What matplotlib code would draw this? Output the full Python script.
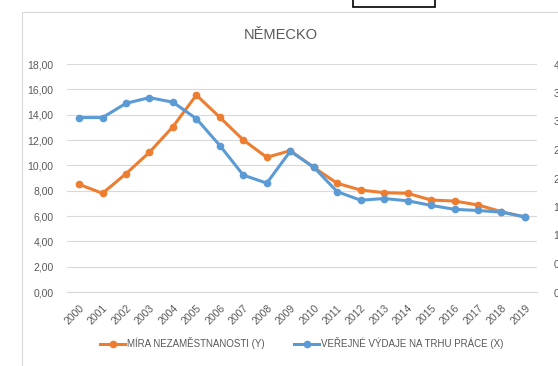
import matplotlib.pyplot as plt
import matplotlib.transforms as mtransforms
from matplotlib.patches import Rectangle

plt.rcParams['font.family'] = ['Liberation Sans', 'DejaVu Sans']

years = [str(y) for y in range(2000, 2020)]
mira_nezam = [8.50, 7.79, 9.34, 11.03, 13.05, 15.55, 13.79, 12.00, 10.63, 11.16,
              9.84, 8.58, 8.05, 7.84, 7.79, 7.26, 7.18, 6.87, 6.34, 5.90]
vydaje_trh = [3.06, 3.06, 3.31, 3.41, 3.33, 3.04, 2.57, 2.05, 1.91, 2.47,
              2.19, 1.76, 1.61, 1.64, 1.60, 1.52, 1.45, 1.43, 1.40, 1.32]
left_ticks = [0, 2, 4, 6, 8, 10, 12, 14, 16, 18]
right_ticks = [0, 0.5, 1, 1.5, 2, 2.5, 3, 3.5, 4]

ORANGE = '#ED7D31'
BLUE = '#5B9BD5'
GREY = '#595959'

def fmt(v):
    return ('%.2f' % v).replace('.', ',')

W, H = 558, 366
fig = plt.figure(figsize=(W / 100, H / 100), dpi=100)

# chart frame
fig.patches.append(Rectangle((22 / W, -0.1), 1.0, 1.1 - 12 / H, transform=fig.transFigure,
                             fill=False, edgecolor='#D9D9D9', linewidth=0.8))
# small box peeking in at the top
fig.patches.append(Rectangle((353 / W, 1 - 7 / H), 82 / W, 0.1, transform=fig.transFigure,
                             facecolor='white', edgecolor='black', linewidth=1.2))

ax = fig.add_axes([67.3 / W, 1 - 292 / H, 469.4 / W, 228 / H])
ax2 = ax.twinx()

x = list(range(len(years)))
ax.plot(x, mira_nezam, color=ORANGE, lw=2.2, marker='o', ms=4.5, label='MÍRA NEZAMĚSTNANOSTI (Y)')
ax2.plot(x, vydaje_trh, color=BLUE, lw=2.2, marker='o', ms=4.5, label='VEŘEJNÉ VÝDAJE NA TRHU PRÁCE (X)')

ax.set_xlim(-0.5, len(years) - 0.5)
ax.set_ylim(0, 18)
ax2.set_ylim(0, 4)
ax.set_yticks(left_ticks)
ax.set_yticklabels([fmt(v) for v in left_ticks])
ax2.set_yticks(right_ticks)
ax2.set_yticklabels([fmt(v) for v in right_ticks])
ax.set_xticks(x)
ax.set_xticklabels(years, rotation=45, ha='right', rotation_mode='anchor')
shift = mtransforms.ScaledTranslation(5 / 100, 0, fig.dpi_scale_trans)
for lbl in ax.get_xticklabels():
    lbl.set_transform(lbl.get_transform() + shift)

ax.grid(axis='y', color='#D9D9D9', lw=0.8)
ax.set_axisbelow(True)
for a in (ax, ax2):
    for s in a.spines.values():
        s.set_visible(False)
    a.tick_params(length=0, labelsize=7.5, labelcolor=GREY)
ax.spines['bottom'].set_visible(True)
ax.spines['bottom'].set_color('#D9D9D9')
ax.tick_params(axis='y', pad=10)
ax.tick_params(axis='x', pad=8)
ax2.tick_params(axis='y', pad=12)

fig.text(281 / W, 1 - 35 / H, 'NĚMECKO', ha='center', va='center', fontsize=10.5, color=GREY)

h1, l1 = ax.get_legend_handles_labels()
h2, l2 = ax2.get_legend_handles_labels()
fig.legend(h1 + h2, l1 + l2, loc='center', bbox_to_anchor=(302 / W, 1 - 343 / H), ncol=2,
           frameon=False, fontsize=7, labelcolor=GREY, handlelength=2.6, handletextpad=0.2,
           columnspacing=3.0)

fig.savefig('out.png', dpi=100)
